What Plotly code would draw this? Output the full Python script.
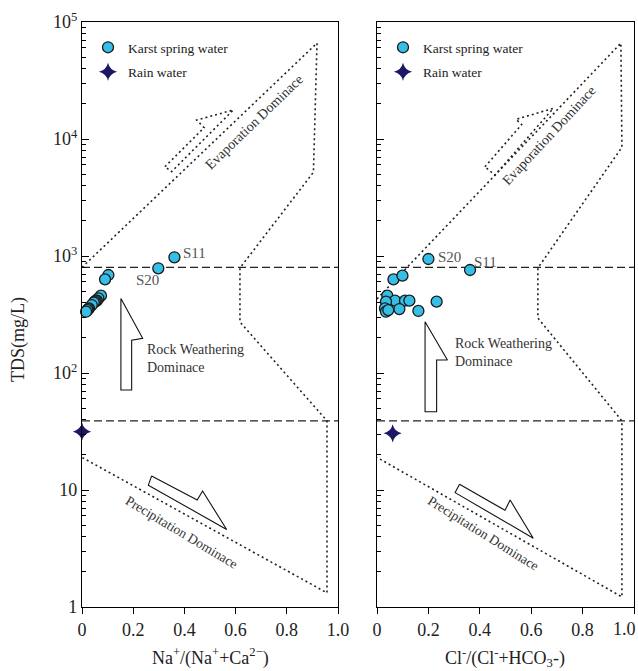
import math
import plotly.graph_objects as go

# ---------------- data ----------------
# Karst spring water samples (left: Na/(Na+Ca), right: Cl/(Cl+HCO3))
left_ratio = [0.361, 0.298, 0.103, 0.090, 0.074, 0.064, 0.058, 0.054, 0.050,
              0.046, 0.038, 0.027, 0.024, 0.021, 0.016]
left_tds = [975, 785, 688, 632, 458, 435, 415, 415, 407, 400, 381, 357, 352, 345, 334]

right_ratio = [0.200, 0.362, 0.064, 0.099, 0.040, 0.070, 0.109, 0.126, 0.035,
               0.031, 0.035, 0.087, 0.161, 0.232, 0.044]
right_tds = [943, 759, 632, 679, 458, 415, 415, 415, 407, 357, 334, 352, 339, 407, 345]

# Rain water
rain_left_ratio = [0.0]
rain_left_tds = [31.5]
rain_right_ratio = [0.061]
rain_right_tds = [30.5]

# Labelled samples
left_label_names = ["S11", "S20"]
left_label_x = [0.385, 0.205]
left_label_tds = [1070, 620]
right_label_names = ["S20", "S11"]
right_label_x = [0.228, 0.370]
right_label_tds = [985, 895]

# Gibbs boundary (boomerang) outlines
left_bound_x = [0.0, 0.918, 0.904, 0.617, 0.617, 0.957, 0.957, 0.0]
left_bound_y = [800, 66000, 5200, 790, 273, 39, 1.32, 19]
right_bound_x = [0.0, 0.949, 0.953, 0.626, 0.626, 0.953, 0.953, 0.0]
right_bound_y = [430, 66000, 8500, 790, 295, 39, 1.22, 19]

# Horizontal dashed limits (TDS)
limit_tds = [800, 39]

# Arrow outlines
left_evap_x = [0.324, 0.477, 0.448, 0.591, 0.350, 0.324]
left_evap_y = [5795, 12500, 14520, 17700, 5260, 5795]
right_evap_x = [0.420, 0.563, 0.541, 0.686, 0.459, 0.420]
right_evap_y = [5795, 13270, 14720, 18280, 4920, 5795]

left_rock_x = [0.152, 0.237, 0.194, 0.194, 0.152, 0.152]
left_rock_y = [434, 198, 191, 71.6, 71.6, 434]
right_rock_x = [0.187, 0.274, 0.232, 0.232, 0.187, 0.187]
right_rock_y = [274, 129, 129, 46.7, 46.7, 274]

left_prec_x = [0.272, 0.450, 0.471, 0.565, 0.259, 0.272]
left_prec_y = [13.2, 8.2, 9.8, 4.6, 11.0, 13.2]
right_prec_x = [0.321, 0.498, 0.518, 0.608, 0.304, 0.321]
right_prec_y = [11.2, 6.7, 8.2, 3.87, 9.5, 11.2]

y_tickvals = [1, 10, 100, 1000, 10000, 100000]
y_ticktext = ["1", "10", "10<sup>2</sup>", "10<sup>3</sup>", "10<sup>4</sup>", "10<sup>5</sup>"]
x_tickvals = [0, 0.2, 0.4, 0.6, 0.8, 1.0]
x_ticktext = ["0", "0.2", "0.4", "0.6", "0.8", "1.0"]

minor_vals = []
for dec in [1, 10, 100, 1000, 10000]:
    for m in range(2, 10):
        minor_vals.append(dec * m)

SERIF = "Liberation Serif, Times New Roman, serif"
TXT = "#222222"

fig = go.Figure()

def add_panel(xa, ya, bx, by, ex, ey, rx, ry, px, py, sx, sy, rainx, rainy, legend):
    dotted = dict(color="#222222", width=1.6, dash="2px,3px")
    fig.add_trace(go.Scatter(x=bx, y=by, mode="lines", line=dotted, xaxis=xa, yaxis=ya,
                             showlegend=False, hoverinfo="skip"))
    fig.add_trace(go.Scatter(x=ex, y=ey, mode="lines", line=dotted, xaxis=xa, yaxis=ya,
                             showlegend=False, hoverinfo="skip"))
    for t in limit_tds:
        fig.add_trace(go.Scatter(x=[0, 1.0], y=[t, t], mode="lines",
                                 line=dict(color="#222222", width=1.4, dash="8px,4px"),
                                 xaxis=xa, yaxis=ya, showlegend=False, hoverinfo="skip"))
    solid = dict(color="#111111", width=1.1)
    fig.add_trace(go.Scatter(x=rx, y=ry, mode="lines", line=solid, xaxis=xa, yaxis=ya,
                             showlegend=False, hoverinfo="skip"))
    fig.add_trace(go.Scatter(x=px, y=py, mode="lines", line=solid, xaxis=xa, yaxis=ya,
                             showlegend=False, hoverinfo="skip"))
    fig.add_trace(go.Scatter(x=sx, y=sy, mode="markers", name="Karst spring water",
                             marker=dict(symbol="circle", size=11, color="#35BFE6",
                                         line=dict(color="#1a1a1a", width=1.3)),
                             xaxis=xa, yaxis=ya, legend=legend, legendgroup=legend + "a",
                             cliponaxis=False))
    fig.add_trace(go.Scatter(x=rainx, y=rainy, mode="markers", name="Rain water",
                             marker=dict(symbol="star-diamond", size=13, color="#1d1566",
                                         line=dict(width=0)),
                             xaxis=xa, yaxis=ya, legend=legend, legendgroup=legend + "b",
                             cliponaxis=False))

add_panel("x", "y", left_bound_x, left_bound_y, left_evap_x, left_evap_y,
          left_rock_x, left_rock_y, left_prec_x, left_prec_y,
          left_ratio, left_tds, rain_left_ratio, rain_left_tds, "legend")
add_panel("x2", "y2", right_bound_x, right_bound_y, right_evap_x, right_evap_y,
          right_rock_x, right_rock_y, right_prec_x, right_prec_y,
          right_ratio, right_tds, rain_right_ratio, rain_right_tds, "legend2")

W, H = 638, 671
xl0, xl1 = 82 / W, 338 / W
xr0, xr1 = 377 / W, 634 / W
yb, yt = 1 - 607 / H, 1 - 22 / H

axis_common = dict(showline=True, linecolor="black", linewidth=1.3, mirror=True,
                   showgrid=False, zeroline=False, automargin=False)

xcommon = dict(axis_common, range=[0, 1.0], tickmode="array", tickvals=x_tickvals,
               ticks="outside", ticklen=6, tickwidth=1.3,
               tickcolor="black", ticklabeloverflow="allow",
               tickfont=dict(family=SERIF, size=18, color=TXT))
ycommon = dict(axis_common, type="log", range=[0, 5], tickmode="array",
               tickvals=y_tickvals, ticks="inside", ticklen=7, tickwidth=1.3,
               tickcolor="black", ticklabeloverflow="allow",
               minor=dict(tickmode="array", tickvals=minor_vals, ticks="inside",
                          ticklen=4, tickwidth=1, tickcolor="black", showgrid=False))

# right panel: last label drawn as an annotation, nudged left so it stays in view
right_ticktext = x_ticktext[:-1] + [""]

fig.update_layout(
    width=W, height=H, margin=dict(l=0, r=0, t=0, b=0, autoexpand=False),
    paper_bgcolor="white", plot_bgcolor="white",
    xaxis=dict(xcommon, domain=[xl0, xl1], anchor="y", ticktext=x_ticktext),
    yaxis=dict(ycommon, domain=[yb, yt], anchor="x", ticktext=y_ticktext,
               tickfont=dict(family=SERIF, size=18, color=TXT)),
    xaxis2=dict(xcommon, domain=[xr0, xr1], anchor="y2", ticktext=right_ticktext),
    yaxis2=dict(ycommon, domain=[yb, yt], anchor="x2", showticklabels=False),
    legend=dict(x=88 / W, y=1 - 32 / H, xanchor="left", yanchor="top",
                bgcolor="rgba(0,0,0,0)", tracegroupgap=4, traceorder="grouped",
                font=dict(family=SERIF, size=13.5, color=TXT)),
    legend2=dict(x=383 / W, y=1 - 32 / H, xanchor="left", yanchor="top",
                 bgcolor="rgba(0,0,0,0)", tracegroupgap=4, traceorder="grouped",
                 font=dict(family=SERIF, size=13.5, color=TXT)),
    font=dict(family=SERIF, color=TXT),
)

ann = []
ann.append(dict(text=x_ticktext[-1], x=x_tickvals[-1], y=1 - 629 / H, xref="x2", yref="paper",
                yanchor="middle", xanchor="right", xshift=4,
                showarrow=False, font=dict(family=SERIF, size=18, color=TXT)))
# axis titles
ann.append(dict(text="TDS(mg/L)", x=18 / W, y=1 - 340 / H, xref="paper", yref="paper",
                xanchor="center", yanchor="middle",
                textangle=-90, showarrow=False, font=dict(family=SERIF, size=18, color=TXT)))
ann.append(dict(text="Na<sup>+</sup>/(Na<sup>+</sup>+Ca<sup>2−</sup>)", x=210 / W, y=1 - 657 / H,
                xref="paper", yref="paper", xanchor="center", yanchor="middle", showarrow=False,
                font=dict(family=SERIF, size=18, color=TXT)))
ann.append(dict(text="Cl<sup>-</sup>/(Cl<sup>-</sup>+HCO<sub>3</sub>-)", x=505 / W, y=1 - 657 / H,
                xref="paper", yref="paper", xanchor="center", yanchor="middle", showarrow=False,
                font=dict(family=SERIF, size=18, color=TXT)))

# region labels
for xa, ya, ex, ey, eang, rx_, ry_, px_, py_, pang in [
    ("x", "y", 0.672, 4.137, -44, 0.246, 2.128, 0.391, 0.641, 31),
    ("x2", "y2", 0.669, 4.034, -47, 0.296, 2.171, 0.414, 0.624, 32),
]:
    ann.append(dict(text="Evaporation Dominace", x=ex, y=ey, xref=xa, yref=ya,
                    textangle=eang, showarrow=False,
                    font=dict(family=SERIF, size=14, color="#333333")))
    ann.append(dict(text="Rock Weathering<br>Dominace", x=rx_, y=ry_, xref=xa, yref=ya,
                    xanchor="left", align="left", showarrow=False,
                    font=dict(family=SERIF, size=14, color="#333333")))
    ann.append(dict(text="Precipitation Dominace", x=px_, y=py_, xref=xa, yref=ya,
                    textangle=pang, showarrow=False,
                    font=dict(family=SERIF, size=13.5, color="#333333")))

# sample labels
for name, lx, ly in zip(left_label_names, left_label_x, left_label_tds):
    ann.append(dict(text=name, x=lx, y=math.log10(ly), xref="x", yref="y", xanchor="left",
                    showarrow=False, font=dict(family=SERIF, size=15, color="#555555")))
for name, lx, ly in zip(right_label_names, right_label_x, right_label_tds):
    ann.append(dict(text=name, x=lx, y=math.log10(ly), xref="x2", yref="y2", xanchor="left",
                    showarrow=False, font=dict(family=SERIF, size=15, color="#555555")))

fig.update_layout(annotations=ann)
fig.write_html("out.html", config={"displayModeBar": False},
               post_script="document.body.style.margin='0px';document.body.style.padding='0px';")
